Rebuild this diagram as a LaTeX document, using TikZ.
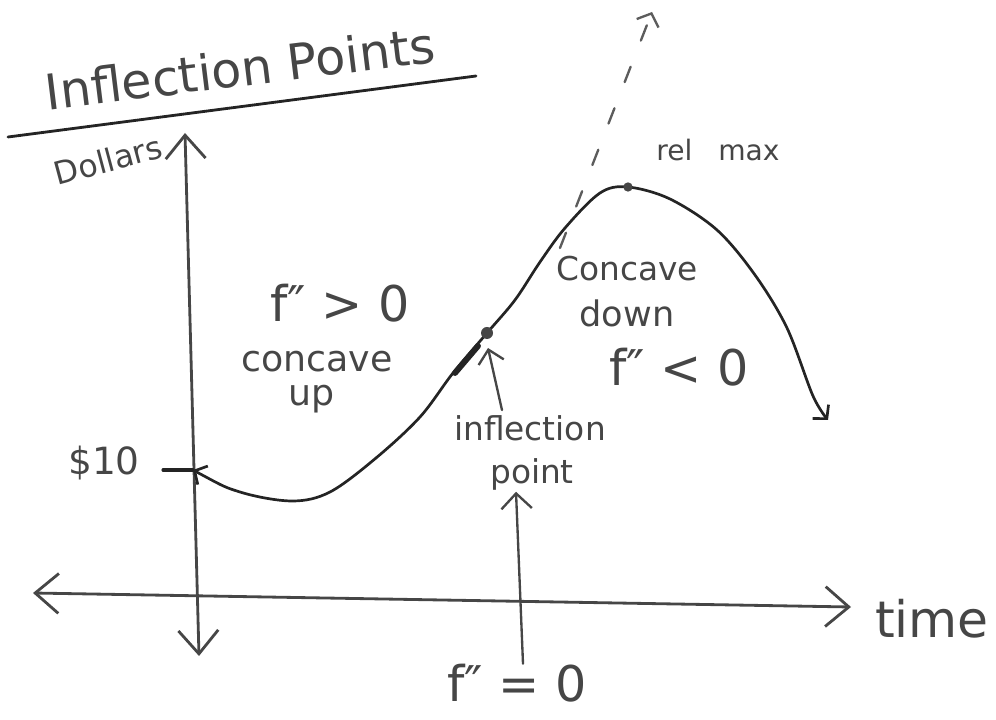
\documentclass[tikz,border=0pt]{standalone}
\usepackage{fontspec}
\setmainfont{DejaVu Sans}
\usetikzlibrary{arrows.meta}

\begin{document}
\begin{tikzpicture}[x=0.03cm, y=0.03cm, every node/.style={inner sep=0pt, text=inkgray}]
			% Define colors
			\definecolor{inkdark}{RGB}{36, 36, 36}
			\definecolor{inkgray}{RGB}{70, 70, 70}
			\definecolor{inkdash}{RGB}{92, 92, 92}

			% Styles
			\tikzstyle{axis_line} = [draw=inkgray, line width=2.4pt, line cap=round, line join=round, >={Straight Barb[length=20pt, width=34pt]}, <->]
			\tikzstyle{graph_line} = [draw=inkdark, line width=2.3pt, line cap=round, line join=round, >={Straight Barb[length=8pt, width=18pt]}, <->]
			\tikzstyle{pointer} = [draw=inkgray, line width=2pt, line cap=round, line join=round, >={Straight Barb[length=11pt, width=22pt]}, ->]
			\tikzstyle{tangent_line} = [draw=inkdash, line width=2pt, line cap=round, dash pattern=on 14pt off 24pt, >={Straight Barb[length=9pt, width=20pt]}, ->]
			\tikzstyle{mark_dot} = [circle, fill=inkgray, draw=none]
			\tikzstyle{hand_label} = [text=inkgray, align=center]

			\useasboundingbox (0,0) rectangle (996,720);

			% Axes
			\coordinate (xleft) at (33,127);
			\coordinate (xright) at (851,113);
			\coordinate (ytop) at (185,587);
			\coordinate (ybottom) at (199,64);
			\draw[axis_line] (xleft) -- (xright);
			\draw[axis_line] (ybottom) -- (ytop);

			% Title and axis labels
			\node[hand_label, font=\fontsize{42}{46}\selectfont, rotate=7] (title) at (240,652) {Inflection Points};
			\coordinate (ulleft) at (8,583);
			\coordinate (ulright) at (476,644);
			\draw[inkdark, line width=2.4pt, line cap=round] (ulleft) -- (ulright);
			\node[hand_label, font=\fontsize{27}{30}\selectfont, rotate=15] (dollars) at (108,560) {Dollars};
			\node[hand_label, font=\fontsize{43}{46}\selectfont] (time) at (932,101) {time};
			\node[hand_label, font=\fontsize{32}{36}\selectfont] (ten) at (104,257) {\$10};

			% The graph
			\coordinate (start) at (193,250);
			\coordinate (ipt) at (487,387);
			\coordinate (max) at (628,533);
			\coordinate (finish) at (828,300);
			\coordinate (tick) at (163,250);
			\draw[inkdark, line width=2.6pt, line cap=round] (tick) -- (start);
			\draw[graph_line] plot[smooth, tension=0.55] coordinates {(start) (240,228) (292,219) (330,228) (376,262) (420,303) (453,347) (ipt) (515,420) (540,458) (565,492) (600,527) (max) (670,521) (717,490) (755,445) (787,392) (813,324) (finish)};
			\coordinate (thickA) at (455,347);
			\coordinate (thickB) at (478,374);
			\draw[inkdark, line width=5pt, line cap=round] (thickA) -- (thickB);
			\node[mark_dot, minimum size=0.36cm] (ipdot) at (ipt) {};
			\node[mark_dot, minimum size=0.28cm] (maxdot) at (max) {};

			% Tangent line
			\coordinate (tanlow) at (560,472);
			\coordinate (tantop) at (652,708);
			\draw[tangent_line] (tanlow) -- (tantop);
			\node[hand_label, font=\fontsize{24}{28}\selectfont] (relmax) at (718,570) {rel\hspace{22pt}max};

			% Concavity labels
			\node[hand_label, font=\fontsize{42}{46}\selectfont] (fpos) at (340,417) {f″ > 0};
			\node[hand_label, font=\fontsize{31}{34}\selectfont] (cup) at (317,358) {concave};
			\node[hand_label, font=\fontsize{31}{34}\selectfont] (up) at (312,321) {up};
			\node[hand_label, font=\fontsize{28}{32}\selectfont] (cdown) at (627,451) {Concave};
			\node[hand_label, font=\fontsize{30}{32}\selectfont] (down) at (627,407) {down};
			\node[hand_label, font=\fontsize{42}{46}\selectfont] (fneg) at (679,353) {f″ < 0};

			% Inflection point labels
			\node[hand_label, font=\fontsize{28}{32}\selectfont] (infl) at (530,292) {inflection};
			\node[hand_label, font=\fontsize{28}{32}\selectfont] (point) at (532,246) {point};
			\node[hand_label, font=\fontsize{42}{46}\selectfont] (fzero) at (517,37) {f″ = 0};
			\draw[pointer] ([xshift=-0.84cm, yshift=0.15cm]infl.north) -- ([xshift=0.03cm, yshift=-0.45cm]ipdot.center);
			\draw[pointer, >={Straight Barb[length=13pt, width=26pt]}] ([xshift=0.18cm]fzero.north) -- ([xshift=-0.48cm, yshift=-0.05cm]point.south);

		\end{tikzpicture}
\end{document}
